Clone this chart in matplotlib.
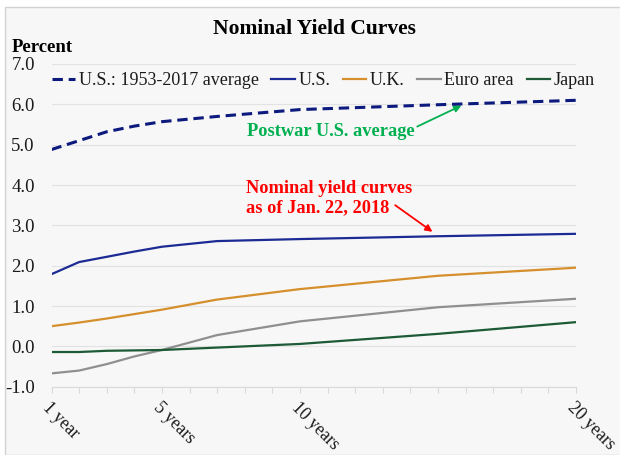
import matplotlib
matplotlib.use("Agg")
import matplotlib.pyplot as plt
from matplotlib.patches import Rectangle

plt.rcParams['font.family'] = ['Liberation Serif', 'DejaVu Serif']
plt.rcParams['axes.unicode_minus'] = False

# ---- data ----
maturities = [1, 2, 3, 4, 5, 7, 10, 15, 20]
us_avg = [4.88, 5.10, 5.32, 5.46, 5.57, 5.70, 5.87, 5.99, 6.10]
us = [1.79, 2.09, 2.22, 2.35, 2.47, 2.61, 2.66, 2.73, 2.79]
uk = [0.50, 0.59, 0.69, 0.80, 0.91, 1.16, 1.42, 1.75, 1.95]
euro = [-0.67, -0.60, -0.44, -0.25, -0.09, 0.28, 0.62, 0.97, 1.18]
japan = [-0.14, -0.14, -0.11, -0.10, -0.09, -0.03, 0.06, 0.31, 0.60]

series_names = ['U.S.: 1953-2017 average', 'U.S.', 'U.K.', 'Euro area', 'Japan']
tick_pos = [1, 5, 10, 20]
tick_labels = ['1 year', '5 years', '10 years', '20 years']
y_ticks = [-1.0, 0.0, 1.0, 2.0, 3.0, 4.0, 5.0, 6.0, 7.0]

# ---- figure ----
W, H = 620, 455
fig = plt.figure(figsize=(W / 100, H / 100), dpi=100, facecolor='white')
fig.patches.append(Rectangle((5 / W, 0), 1, 1 - 7 / H, transform=fig.transFigure,
                             facecolor='#f7f7f7', edgecolor='#d2d2d2', linewidth=1.0, zorder=-5))

ax = fig.add_axes([51.5 / W, 1 - 386.7 / H, (576 - 51.5) / W, (386.7 - 64) / H])
ax.set_facecolor('none')
ax.set_zorder(2)

ax.plot(maturities, us_avg, color='#0c1a7e', lw=2.2, ls=(0, (3.4, 1.9)), label=series_names[0], zorder=5)
ax.plot(maturities, us, color='#1c2a94', lw=1.6, label=series_names[1], zorder=5)
ax.plot(maturities, uk, color='#d58f2c', lw=1.6, label=series_names[2], zorder=4)
ax.plot(maturities, euro, color='#8f8f8f', lw=1.6, label=series_names[3], zorder=4)
ax.plot(maturities, japan, color='#1d5a36', lw=1.6, label=series_names[4], zorder=4)

ax.set_xlim(1, 20)
ax.set_ylim(-1, 7)
ax.set_yticks(y_ticks)
ax.set_yticklabels([f'{v:.1f}' for v in y_ticks])
ax.set_xticks(list(range(1, 21)))
ax.set_xticklabels([tick_labels[tick_pos.index(i)] if i in tick_pos else '' for i in range(1, 21)])

ax.grid(axis='y', color='#e2e2e2', lw=0.8)
for s in ['top', 'right', 'left']:
    ax.spines[s].set_visible(False)
ax.spines['bottom'].set_color('#d9d9d9')
ax.spines['bottom'].set_linewidth(0.8)
ax.tick_params(axis='y', length=0, pad=12, labelsize=13.5, colors='#1a1a1a')
ax.tick_params(axis='x', length=4, width=0.8, color='#d9d9d9', pad=5, labelsize=12.8, labelcolor='#1a1a1a')
plt.setp(ax.get_xticklabels(), rotation=-45, ha='left', va='top', rotation_mode='anchor')

leg = ax.legend(loc='upper left', bbox_to_anchor=(0.0, 1.0 - 8 / 322.7), ncol=5, frameon=False,
                fontsize=13, handlelength=1.3, handletextpad=0.2, columnspacing=0.7,
                borderpad=0, borderaxespad=0)
for t in leg.get_texts():
    t.set_color('#1a1a1a')

fig.text(314.5 / W, 1 - 29 / H, 'Nominal Yield Curves', ha='center', va='center',
         fontsize=15.5, fontweight='bold', color='black')
fig.text(12 / W, 1 - 47 / H, 'Percent', ha='left', va='center', fontsize=13.5,
         fontweight='bold', color='black')

# Postwar annotation
ax.text(14.15, 5.33, 'Postwar U.S. average', ha='right', va='center', fontsize=13.2,
        fontweight='bold', color='#00b050')
ax.annotate('', xy=(15.85, 5.97), xytext=(14.25, 5.45),
            arrowprops=dict(arrowstyle='-|>', color='#00b050', lw=1.3,
                            mutation_scale=10, shrinkA=0, shrinkB=0))

# Current curves annotation
ax.text(8.05, 3.67, 'Nominal yield curves\nas of Jan. 22, 2018', ha='left', va='center',
        fontsize=13.2, fontweight='bold', color='#ff0000', linespacing=1.2)
ax.annotate('', xy=(14.8, 2.84), xytext=(13.45, 3.5),
            arrowprops=dict(arrowstyle='-|>', color='#ff0000', lw=1.3,
                            mutation_scale=10, shrinkA=0, shrinkB=0))

fig.savefig('out.png', dpi=100, facecolor=fig.get_facecolor())
